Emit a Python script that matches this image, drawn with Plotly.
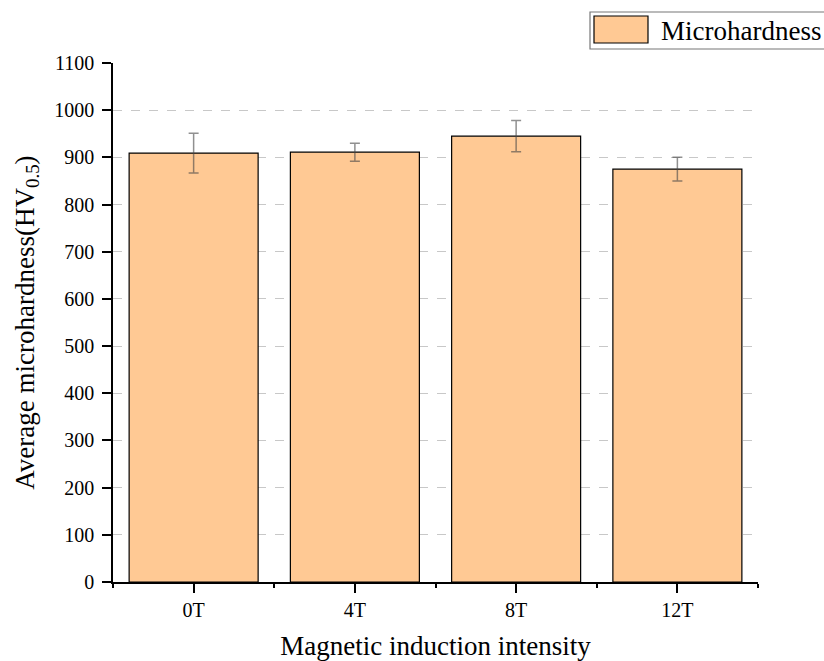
import plotly.graph_objects as go

# Microhardness under different magnetic induction intensities
categories = ["0T", "4T", "8T", "12T"]
hardness = [909, 911, 945, 875]
hardness_err = [42, 19, 33, 25]
y_ticks = list(range(0, 1101, 100))

W, H = 824, 661
L, R, T, B = 113, 66, 63, 79
FONT = "Liberation Serif, Times New Roman, serif"
BAR_FILL = "#FFC994"


def px_to_paper(px, py):
    """Convert window pixel position to paper coordinates."""
    pw = W - L - R
    ph = H - T - B
    return (px - L) / pw, (H - B - py) / ph


xs = list(range(len(categories)))

fig = go.Figure()
fig.add_trace(go.Bar(
    x=xs,
    y=hardness,
    width=0.8,
    marker=dict(color=BAR_FILL, line=dict(color="#000000", width=1.2)),
    error_y=dict(type="data", array=hardness_err, visible=True,
                 color="rgba(70,70,70,0.6)", thickness=1.5, width=5),
    showlegend=False,
))
# invisible trace carrying the grid axis
fig.add_trace(go.Scatter(x=[0], y=[0], yaxis="y2", mode="markers",
                         marker=dict(opacity=0), showlegend=False,
                         hoverinfo="skip"))

fig.update_layout(
    width=W, height=H,
    margin=dict(l=L, r=R, t=T, b=B, autoexpand=False),
    paper_bgcolor="white", plot_bgcolor="white",
    font=dict(family=FONT, color="#000000"),
    bargap=0.2,
    xaxis=dict(
        range=[-0.5, 3.5], automargin=False,
        tickmode="array", tickvals=xs, ticktext=categories,
        ticks="outside", ticklen=9, tickwidth=1.5, tickcolor="#000",
        minor=dict(tickmode="linear", tick0=0.5, dtick=1, ticks="outside",
                   ticklen=4, tickwidth=1.5, tickcolor="#000", showgrid=False),
        showline=True, linecolor="#000", linewidth=1.5,
        showgrid=False, zeroline=False,
        tickfont=dict(size=20, family=FONT),
        title=dict(text="Magnetic induction intensity",
                   font=dict(size=27, family=FONT), standoff=16),
    ),
    yaxis=dict(
        range=[0, 1100], automargin=False,
        tickmode="array", tickvals=y_ticks,
        ticks="outside", ticklen=9, tickwidth=1.5, tickcolor="#000",
        ticklabelstandoff=4,
        showline=True, linecolor="#000", linewidth=1.5,
        showgrid=False, zeroline=False,
        tickfont=dict(size=20, family=FONT),
        title=dict(text="Average microhardness(HV<sub>0.5</sub>)",
                   font=dict(size=27, family=FONT), standoff=12),
    ),
    yaxis2=dict(
        overlaying="y", range=[0, 1100],
        tickmode="array", tickvals=y_ticks[1:-1],
        showticklabels=False, ticks="",
        showgrid=True, gridcolor="#c8c8c8", griddash="dash", gridwidth=1,
        zeroline=False, showline=False,
    ),
)

# legend box drawn as shapes
x0, y0 = px_to_paper(590, 12)
x1, y1 = px_to_paper(830, 49)
fig.add_shape(type="rect", xref="paper", yref="paper",
              x0=x0, y0=y1, x1=x1, y1=y0,
              line=dict(color="#777777", width=1.2), fillcolor="white")
sx0, sy0 = px_to_paper(594, 16)
sx1, sy1 = px_to_paper(648, 43)
fig.add_shape(type="rect", xref="paper", yref="paper",
              x0=sx0, y0=sy1, x1=sx1, y1=sy0,
              line=dict(color="#000000", width=1.2), fillcolor=BAR_FILL)
tx, ty = px_to_paper(659, 31)
fig.add_annotation(xref="paper", yref="paper", x=tx, y=ty,
                   xanchor="left", yanchor="middle", showarrow=False,
                   text="Microhardness", font=dict(size=27, family=FONT))

fig.write_html("out.html")
